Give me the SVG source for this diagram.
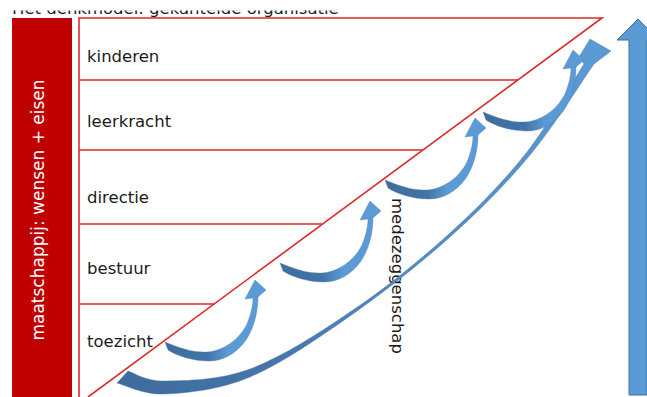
<svg xmlns="http://www.w3.org/2000/svg" xmlns:xlink="http://www.w3.org/1999/xlink" width="647" height="397" viewBox="0 0 647 397">
<style>
.lbl{font-family:"DejaVu Sans",Verdana,sans-serif;font-size:16.5px;fill:#1a1a1a}
.bartxt{font-family:"DejaVu Sans",Verdana,sans-serif;font-size:17px;fill:#ffffff}
.red{stroke:#dc2a2a;stroke-width:1.6;fill:none}
.small{fill:url(#gSmall);stroke:#4a7db2;stroke-width:0.4}
</style>
<defs>
<clipPath id="titleClip"><rect x="0" y="10.5" width="647" height="8"/></clipPath>
<linearGradient id="gSmall" x1="0" y1="0" x2="1" y2="0">
<stop offset="0" stop-color="#3e6d9e"/>
<stop offset="0.42" stop-color="#4373a6"/>
<stop offset="0.62" stop-color="#5b9bd5"/>
<stop offset="1" stop-color="#5b9bd5"/>
</linearGradient>
<linearGradient id="gLong" gradientUnits="userSpaceOnUse" x1="117" y1="380" x2="611" y2="40">
<stop offset="0" stop-color="#3d6c9c"/>
<stop offset="0.2" stop-color="#4474a8"/>
<stop offset="0.5" stop-color="#5189c4"/>
<stop offset="1" stop-color="#5b9bd5"/>
</linearGradient>
<path id="curvedArrow" class="small" d="M0,0 C12,5 28,11 42,10 C58,9 74,-2 82,-18 C86,-28 88,-37 88,-44 L80,-43 L90,-62 L101,-52 L93,-45 C93,-30 89,-14 81,-2 C71,12 58,19 44,19 C28,19 12,14 3,8 Z"/>
</defs>
<rect width="647" height="397" fill="#ffffff"/>

<g id="title" clip-path="url(#titleClip)">
<text class="lbl" x="12" y="13.5" fill="#000">Het denkmodel: gekantelde organisatie</text>
</g>

<g id="society-bar">
<rect x="12" y="18" width="60" height="380" fill="#c00000"/>
<text class="bartxt" transform="translate(44,210) rotate(-90)" text-anchor="middle">maatschappij: wensen + eisen</text>
</g>

<g id="frame">
<polyline class="red" points="79,397 79,18 602,18 88,397"/>
</g>

<g id="row-kinderen">
<text class="lbl" x="87" y="62">kinderen</text>
</g>
<g id="row-leerkracht">
<line class="red" x1="79" y1="80" x2="518" y2="80"/>
<text class="lbl" x="87" y="127">leerkracht</text>
</g>
<g id="row-directie">
<line class="red" x1="79" y1="150" x2="423" y2="150"/>
<text class="lbl" x="87" y="203">directie</text>
</g>
<g id="row-bestuur">
<line class="red" x1="79" y1="224" x2="322" y2="224"/>
<text class="lbl" x="87" y="274">bestuur</text>
</g>
<g id="row-toezicht">
<line class="red" x1="79" y1="304" x2="214" y2="304"/>
<text class="lbl" x="87" y="347">toezicht</text>
</g>

<g id="label-medezeggenschap">
<text class="lbl" transform="translate(392,198) rotate(90)">medezeggenschap</text>
</g>

<g id="growth-arrow">
<polygon points="638,19 659,40 647,40 647,395 629,395 629,40 617,40" fill="#5b9bd5" stroke="#41719c" stroke-width="1"/>
</g>

<g id="connectors">
<path fill="url(#gLong)" stroke="#41719c" stroke-width="0.4" d="M117,383 C125,384.8 142.8,395 165,394 C187.2,393 219.2,390 250,377 C280.8,364 316.7,339.3 350,316 C383.3,292.7 420,263.8 450,237 C480,210.2 506,183.8 530,155 C554,126.2 583.3,79.2 594,64 L611,51 L590,39 L579,57 L584,64 C574.5,78.7 549.3,123.2 527,152 C504.7,180.2 479.5,206.3 450,233 C420.5,259.7 383.3,290.3 350,312 C316.7,334.7 280.8,357.5 250,369 C219.2,380.5 185.3,380.7 165,381 C144.7,381.3 134.2,372.7 128,371 Z"/>
<use xlink:href="#curvedArrow" transform="translate(165,342)"/>
<use xlink:href="#curvedArrow" transform="translate(280,263)"/>
<use xlink:href="#curvedArrow" transform="translate(385,180)"/>
<use xlink:href="#curvedArrow" transform="translate(483,112)"/>
</g>
</svg>
